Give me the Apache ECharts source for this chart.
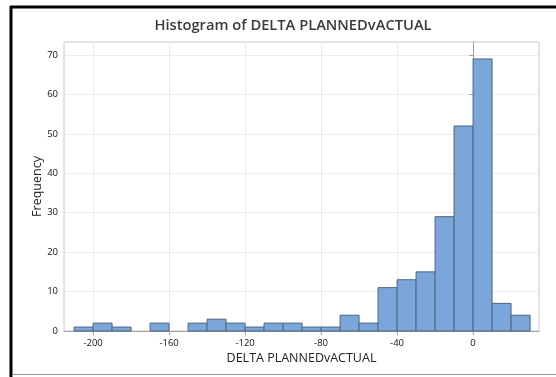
<!DOCTYPE html>
<html>
<head>
<meta charset="utf-8">
<script src="https://cdn.jsdelivr.net/npm/echarts@6/dist/echarts.min.js"></script>
<style>
  html, body { margin: 0; padding: 0; background: #fff; }
  #main { width: 556px; height: 377px; }
</style>
</head>
<body>
<div id="main"></div>
<script>
(function () {
    // histogram data, bins of width 10
    var binStarts = [-210, -200, -190, -180, -170, -160, -150, -140, -130, -120, -110, -100,
                     -90, -80, -70, -60, -50, -40, -30, -20, -10, 0, 10, 20];
    var counts = [1, 2, 1, 0, 2, 0, 2, 3, 2, 1, 2, 2,
                  1, 1, 4, 2, 11, 13, 15, 29, 52, 69, 7, 4];
    var binWidth = 10;
    var xTicks = [-200, -160, -120, -80, -40, 0];
    var yTicks = [0, 10, 20, 30, 40, 50, 60, 70];

    var chart = echarts.init(document.getElementById('main'));
    var fontFam = '"Open Sans", "Noto Sans", sans-serif';

    var barData = [];
    binStarts.forEach(function (s, i) {
        if (counts[i] > 0) barData.push([s, s + binWidth, counts[i]]);
    });

    var option = {
        backgroundColor: '#fff',
        animation: false,
        title: {
            text: 'Histogram of DELTA PLANNEDvACTUAL',
            left: 288, top: 13, textAlign: 'center',
            textStyle: { fontFamily: fontFam, fontSize: 14.7, fontWeight: 600, color: '#3a3a3a' }
        },
        grid: {
            left: 64, right: 17, top: 42, bottom: 46,
            show: true, borderColor: '#c8c8c8', borderWidth: 1, backgroundColor: '#fff'
        },
        xAxis: {
            type: 'value', min: -215.3, max: 34.7,
            name: 'DELTA PLANNEDvACTUAL', nameLocation: 'middle', nameGap: 21,
            nameMoveOverlap: false,
            nameTextStyle: { fontFamily: fontFam, fontSize: 12.5, color: '#222' },
            axisLine: { show: true, lineStyle: { color: '#a0a0a0' } },
            axisTick: { show: true, length: 4, customValues: xTicks, lineStyle: { color: '#a0a0a0' } },
            axisLabel: { customValues: xTicks, fontFamily: fontFam, fontSize: 9.5, color: '#111', margin: 7 },
            splitLine: { show: true, lineStyle: { color: '#ececec' } }
        },
        yAxis: {
            type: 'value', min: 0, max: 73.3,
            name: 'Frequency', nameLocation: 'middle', nameGap: 20,
            nameMoveOverlap: false,
            nameTextStyle: { fontFamily: fontFam, fontSize: 12.5, color: '#222' },
            axisLine: { show: true, lineStyle: { color: '#a0a0a0' } },
            axisTick: { show: true, length: 4, customValues: yTicks, lineStyle: { color: '#a0a0a0' } },
            axisLabel: { customValues: yTicks, fontFamily: fontFam, fontSize: 9.5, color: '#111', margin: 6 },
            splitLine: { show: true, lineStyle: { color: '#ececec' } }
        },
        graphic: [
            { type: 'line', shape: { x1: 11, y1: 6, x2: 11, y2: 377 }, style: { stroke: '#000', lineWidth: 3 } },
            { type: 'line', shape: { x1: 10, y1: 7, x2: 556, y2: 7 }, style: { stroke: '#000', lineWidth: 3 } },
            { type: 'line', shape: { x1: 12, y1: 374.5, x2: 556, y2: 374.5 }, style: { stroke: '#999', lineWidth: 1 } }
        ],
        series: [{
            type: 'custom',
            data: barData,
            renderItem: function (params, api) {
                var p0 = api.coord([api.value(0), api.value(2)]);
                var p1 = api.coord([api.value(1), 0]);
                return {
                    type: 'rect',
                    shape: { x: p0[0], y: p0[1], width: p1[0] - p0[0], height: p1[1] - p0[1] },
                    style: { fill: '#7BA6D9', stroke: '#4F6580', lineWidth: 1 }
                };
            },
            encode: { x: [0, 1], y: 2 }
        }]
    };
    chart.setOption(option);
})();
</script>
</body>
</html>
